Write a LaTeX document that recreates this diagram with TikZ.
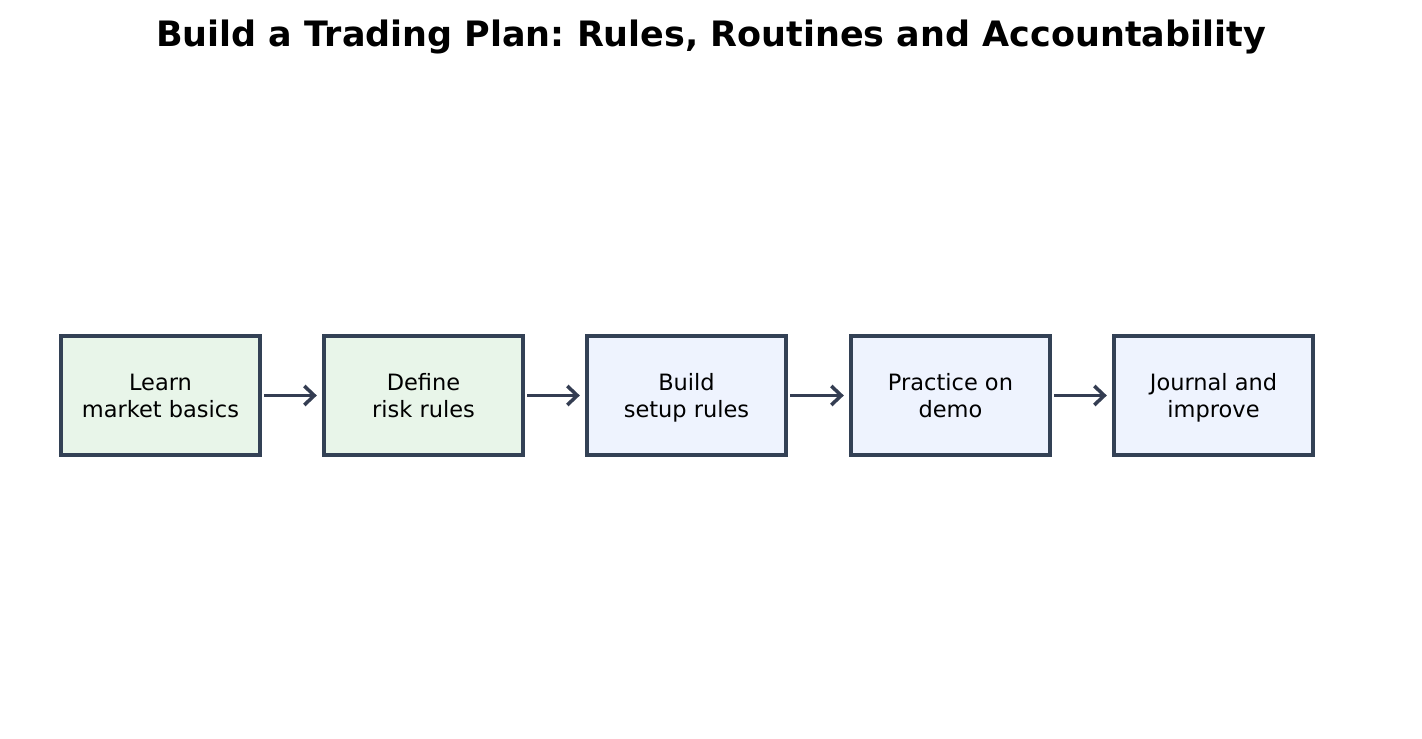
\documentclass[tikz,border=0pt]{standalone}
\usepackage{fontspec}
\setmainfont{DejaVu Sans}
\usetikzlibrary{arrows.meta}
\frenchspacing
\definecolor{edgeslate}{HTML}{334155}
\definecolor{arrowslate}{HTML}{343D52}
\definecolor{greenfill}{HTML}{E8F5E9}
\definecolor{bluefill}{HTML}{EEF3FE}
\tikzset{
	stepbox/.style={draw=edgeslate,line width=0.95pt,minimum width=1.99cm,minimum height=1.19cm,inner sep=0pt,align=center,font=\fontsize{6.4pt}{7.5pt}\selectfont,text=black,execute at begin node=\rule{0pt}{14.6pt},execute at end node=\rule[-2.25pt]{0pt}{2.25pt}},
	flow/.style={draw=arrowslate,line width=1pt,-{Straight Barb[length=1mm,width=1.9mm,line width=1pt]},shorten <=0.025cm,shorten >=0.055cm}
}
\begin{document}
\begin{tikzpicture}
		\useasboundingbox (0,0) rectangle (14.22,7.38);
		
		\node[font=\bfseries\fontsize{9.95pt}{12pt}\selectfont] (title) at (7.11,7.01) {Build a Trading Plan: Rules, Routines and Accountability};
		
		\node[stepbox,fill=greenfill] (learn) at (1.605,3.425) {Learn\\market basics};
		\node[stepbox,fill=greenfill] (define) at (4.235,3.425) {Define\\risk rules};
		\node[stepbox,fill=bluefill] (build) at (6.865,3.425) {Build\\setup rules};
		\node[stepbox,fill=bluefill] (practice) at (9.505,3.425) {Practice on\\demo};
		\node[stepbox,fill=bluefill] (journal) at (12.135,3.425) {Journal and\\improve};
		
		\draw[flow] (learn) -- (define);
		\draw[flow] (define) -- (build);
		\draw[flow] (build) -- (practice);
		\draw[flow] (practice) -- (journal);
	\end{tikzpicture}
\end{document}
